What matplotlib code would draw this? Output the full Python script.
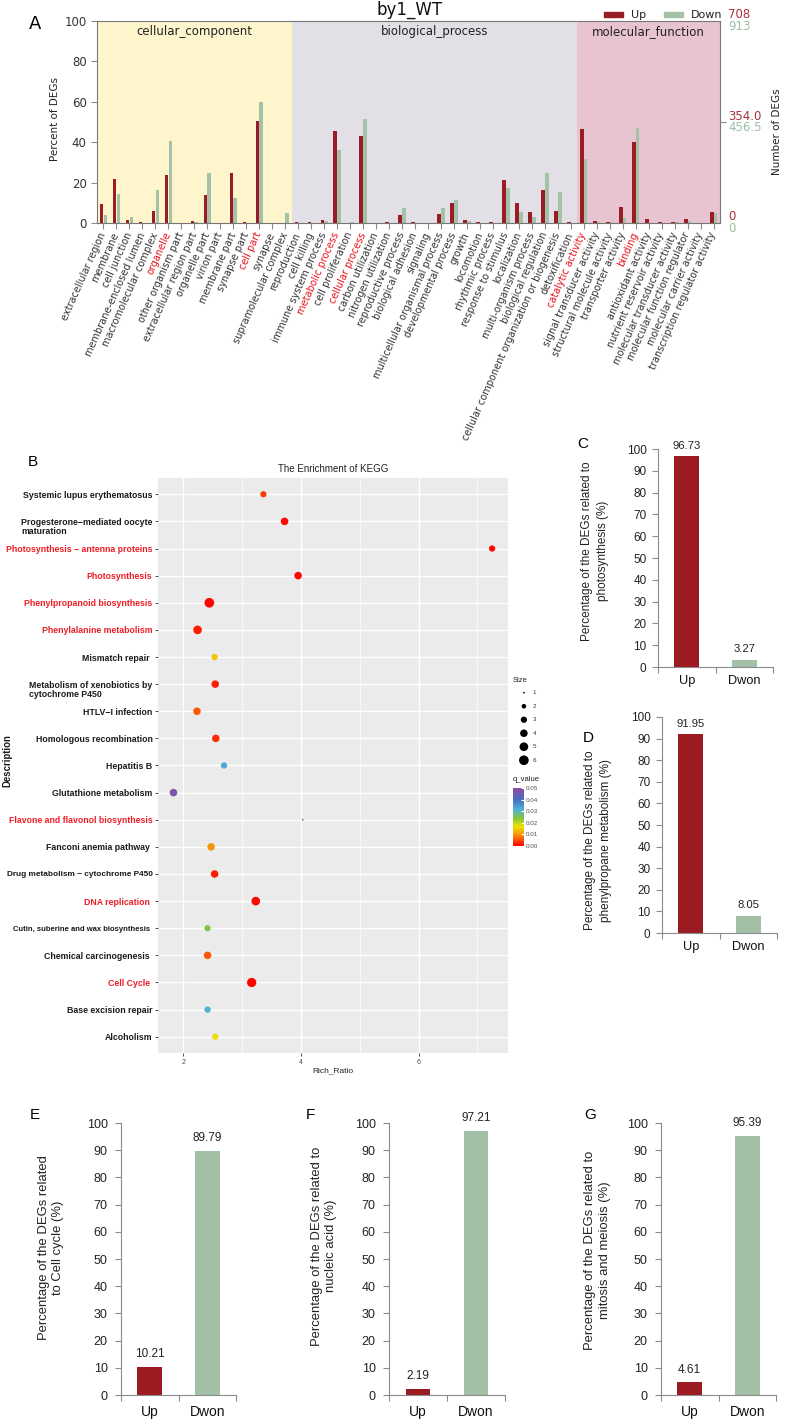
import numpy as np
import matplotlib
matplotlib.use('Agg')
import matplotlib.pyplot as plt
from matplotlib.colors import LinearSegmentedColormap
from matplotlib.patches import Rectangle

# ---------------- data ----------------
# panel A: GO classification, percent of DEGs (Up / Down)
cc_terms = ['extracellular region', 'membrane', 'cell junction', 'membrane-enclosed lumen',
            'macromolecular complex', 'organelle', 'other organism part',
            'extracellular region part', 'organelle part', 'virion part', 'membrane part',
            'synapse part', 'cell part', 'synapse', 'supramolecular complex']
cc_up = [9.2, 21.6, 1.6, 0.3, 5.9, 23.9, 0, 1.0, 13.9, 0, 24.8, 0.3, 50.7, 0, 0]
cc_down = [4.1, 14.4, 3.0, 0.2, 16.5, 40.4, 0, 0.5, 24.8, 0, 12.2, 0, 59.9, 0, 4.8]

bp_terms = ['reproduction', 'cell killing', 'immune system process', 'metabolic process',
            'cell proliferation', 'cellular process', 'carbon utilization',
            'nitrogen utilization', 'reproductive process', 'biological adhesion', 'signaling',
            'multicellular organismal process', 'developmental process', 'growth',
            'locomotion', 'rhythmic process', 'response to stimulus', 'localization',
            'multi-organism process', 'biological regulation',
            'cellular component organization or biogenesis', 'detoxification']
bp_up = [0.3, 0.7, 1.5, 45.5, 0, 43.2, 0, 0.3, 4.2, 0.3, 0.2, 4.6, 9.9, 1.3, 0.3, 0.3,
         21.5, 9.7, 5.4, 16.5, 6.1, 0.5]
bp_down = [0, 0, 1.0, 36.1, 0.3, 51.5, 0, 0, 7.3, 0, 0, 7.4, 11.2, 1.2, 0, 0.2,
           17.2, 5.3, 3.0, 24.6, 15.2, 0]

mf_terms = ['catalytic activity', 'signal transducer activity', 'structural molecule activity',
            'transporter activity', 'binding', 'antioxidant activity',
            'nutrient reservoir activity', 'molecular transducer activity',
            'molecular function regulator', 'molecular carrier activity',
            'transcription regulator activity']
mf_up = [46.4, 1.2, 0.5, 7.8, 39.9, 1.8, 0.3, 0.3, 2.0, 0, 5.4]
mf_down = [31.5, 0.7, 0.3, 2.5, 47.0, 0, 0, 0.7, 1.2, 0, 4.8]

go_highlight = ['organelle', 'cell part', 'metabolic process', 'cellular process',
                'catalytic activity', 'binding']
n_up_total = 708
n_down_total = 913

# panel B: KEGG enrichment
kegg_terms = ['Systemic lupus erythematosus',
              'Progesterone\u2212mediated oocyte\nmaturation',
              'Photosynthesis \u2212 antenna proteins',
              'Photosynthesis',
              'Phenylpropanoid biosynthesis',
              'Phenylalanine metabolism',
              'Mismatch repair ',
              'Metabolism of xenobiotics by\ncytochrome P450',
              'HTLV\u2212I infection',
              'Homologous recombination',
              'Hepatitis B',
              'Glutathione metabolism',
              'Flavone and flavonol biosynthesis',
              'Fanconi anemia pathway ',
              'Drug metabolism \u2212 cytochrome P450',
              'DNA replication ',
              'Cutin, suberine and wax biosynthesis ',
              'Chemical carcinogenesis ',
              'Cell Cycle ',
              'Base excision repair',
              'Alcoholism']
rich_ratio = [3.36, 3.72, 7.25, 3.95, 2.44, 2.24, 2.53, 2.54, 2.23, 2.55, 2.69, 1.83,
              4.03, 2.47, 2.53, 3.23, 2.41, 2.41, 3.16, 2.41, 2.54]
gene_size = [3, 4, 3, 4, 6, 5, 3, 4, 4, 4, 3, 4, 1, 4, 4, 5, 3, 4, 5.6, 3, 3]
q_value = [0.004, 0.0005, 0.0003, 0.0003, 0.0002, 0.002, 0.014, 0.002, 0.006, 0.003,
           0.033, 0.047, 0.049, 0.010, 0.002, 0.0005, 0.024, 0.006, 0.0003, 0.032, 0.017]
kegg_highlight = [2, 3, 4, 5, 12, 15, 18]

# panels C-G: percentage of DEGs
bar_cats = ['Up', 'Dwon']
photo_pct = [96.73, 3.27]
phenyl_pct = [91.95, 8.05]
cellcycle_pct = [10.21, 89.79]
nucleic_pct = [2.19, 97.21]
mitosis_pct = [4.61, 95.39]

# ---------------- style ----------------
RED_A = '#9a1c24'
GREEN_A = '#a4c2a8'
RED = '#9b1b20'
GREEN = '#a3bfa6'
GRAY = '#8c8c8c'
ARIAL = ['Liberation Sans', 'DejaVu Sans']
NARROW = ['Liberation Sans Narrow', 'DejaVu Sans Condensed', 'Liberation Sans', 'DejaVu Sans']

W, H = 785, 1422
fig = plt.figure(figsize=(W / 100, H / 100), dpi=100)


def add_ax(l, t, r, b):
    return fig.add_axes([l / W, 1 - b / H, (r - l) / W, (b - t) / H])


def ftext(x, y, s, **kw):
    return fig.text(x / W, 1 - y / H, s, **kw)


# ================= panel A =================
go_terms = cc_terms + bp_terms + mf_terms
up = np.array(cc_up + bp_up + mf_up)
down = np.array(cc_down + bp_down + mf_down)
n = len(go_terms)
xa = np.arange(n) + 0.5
n_cc, n_bp = len(cc_terms), len(bp_terms)

axA = add_ax(97, 21, 720, 223)
axA.axvspan(0, n_cc, color='#fef5cd', zorder=0, lw=0)
axA.axvspan(n_cc, n_cc + n_bp, color='#e2dfe6', zorder=0, lw=0)
axA.axvspan(n_cc + n_bp, n, color='#e7c4d0', zorder=0, lw=0)
axA.bar(xa - 0.14, up, width=0.28, color=RED_A, zorder=2)
axA.bar(xa + 0.15, down, width=0.28, color=GREEN_A, zorder=2)
axA.set_xlim(0, n)
axA.set_ylim(0, 100)
axA.set_yticks(range(0, 101, 20))
axA.set_xticks(xa)
axA.set_xticklabels(go_terms, rotation=66, ha='right', va='center',
                    rotation_mode='anchor', fontsize=7, color='#333333')
for lbl, t in zip(axA.get_xticklabels(), go_terms):
    if t in go_highlight:
        lbl.set_color('#e8141c')
axA.tick_params(axis='x', length=4, color=GRAY, pad=3)
axA.tick_params(axis='y', length=4, color=GRAY, labelsize=8.5, labelcolor='#333333')
for s in axA.spines.values():
    s.set_color('#777777')
    s.set_linewidth(0.8)

axA.text(n_cc / 2, 95, 'cellular_component', ha='center', va='center', fontsize=8.5, color='#222')
axA.text(n_cc + n_bp / 2, 95, 'biological_process', ha='center', va='center', fontsize=8.5, color='#222')
axA.text(n_cc + n_bp + len(mf_terms) / 2, 95, 'molecular_function', ha='center', va='center',
         fontsize=8.5, color='#222')

axR = axA.twinx()
axR.set_ylim(0, 100)
axR.set_yticks([50])
axR.set_yticklabels([])
axR.tick_params(axis='y', length=4, color=GRAY)
for s in axR.spines.values():
    s.set_visible(False)

RED_T = '#a8323a'
GREEN_T = '#9dbfa3'
ftext(728, 14, str(n_up_total), color=RED_T, fontsize=8.5, va='center')
ftext(728, 26, str(n_down_total), color=GREEN_T, fontsize=8.5, va='center')
ftext(728, 116, f'{n_up_total / 2:.1f}', color=RED_T, fontsize=8.5, va='center')
ftext(728, 127.5, f'{n_down_total / 2:.1f}', color=GREEN_T, fontsize=8.5, va='center')
ftext(728, 216.5, '0', color=RED_T, fontsize=8.5, va='center')
ftext(728, 228, '0', color=GREEN_T, fontsize=8.5, va='center')
ftext(777, 132, 'Number of DEGs', rotation=90, ha='center', va='center', fontsize=7.5, color='#222')
ftext(55, 119, 'Percent of DEGs', rotation=90, ha='center', va='center', fontsize=7.5, color='#222')
ftext(410, 10, 'by1_WT', ha='center', va='center', fontsize=12, color='#111')
ftext(35, 24, 'A', ha='center', va='center', fontsize=13)

fig.patches.append(Rectangle((604 / W, 1 - 17.3 / H), 19 / W, 5.6 / H,
                             transform=fig.transFigure, color=RED_A))
ftext(631, 14.5, 'Up', va='center', fontsize=8, color='#222')
fig.patches.append(Rectangle((664 / W, 1 - 17.3 / H), 19 / W, 5.6 / H,
                             transform=fig.transFigure, color=GREEN_A))
ftext(691, 14.5, 'Down', va='center', fontsize=8, color='#222')

# ================= panel B =================
q_cmap = LinearSegmentedColormap.from_list(
    'q', [(0, '#ff0000'), (0.18, '#f7890a'), (0.33, '#f2e100'), (0.48, '#84c441'),
          (0.64, '#4fb0d6'), (0.8, '#4a6cc0'), (1, '#8f4ba0')])


def dot_area(v):
    d_px = np.sqrt(3 + 18 * (v - 1))
    return (d_px * 0.72) ** 2


axB = add_ax(158, 478, 508, 1053)
yk = np.arange(len(kegg_terms))
axB.set_facecolor('#ebebeb')
sc = axB.scatter(rich_ratio, yk, s=[dot_area(v) for v in gene_size], c=q_value,
                 cmap=q_cmap, vmin=0, vmax=0.05, edgecolors='none', zorder=3)
axB.set_xlim(1.567, 7.52)
axB.set_ylim(len(kegg_terms) - 1 + 0.6, -0.6)
axB.set_xticks([2, 4, 6])
axB.set_xticks([3, 5, 7], minor=True)
axB.set_axisbelow(True)
axB.grid(which='major', color='white', lw=1.0)
axB.xaxis.grid(True, which='minor', color='white', lw=0.5)
for s in axB.spines.values():
    s.set_visible(False)
axB.set_yticks(yk)
# first line on the tick, any second line drawn underneath later
kegg_first = [t.split('\n')[0] for t in kegg_terms]
axB.set_yticklabels(kegg_first, fontsize=6.3, fontweight='bold', family=ARIAL, color='#1a1a1a')
kegg_fs = [6.3] * len(kegg_terms)
kegg_fs[14] = 5.95
kegg_fs[16] = 5.5
kegg_col = ['#ee1c24' if i in kegg_highlight else '#1a1a1a' for i in range(len(kegg_terms))]
for i, lbl in enumerate(axB.get_yticklabels()):
    lbl.set_color(kegg_col[i])
    lbl.set_fontsize(kegg_fs[i])
axB.tick_params(axis='y', length=2.5, width=0.6, color='#333333', pad=1.5)
axB.tick_params(axis='x', which='major', length=2.5, width=0.6, color='#333333', pad=1.5,
                labelsize=5, labelcolor='#4d4d4d')
axB.tick_params(axis='x', which='minor', length=0)
for lbl in axB.get_xticklabels():
    lbl.set_family(ARIAL)

ftext(333, 469, 'The Enrichment of KEGG', ha='center', va='center', fontsize=7,
      family=ARIAL, color='#222')
ftext(333, 1071, 'Rich_Ratio', ha='center', va='center', fontsize=6, family=ARIAL, color='#222')
ftext(7, 761, 'Description', rotation=90, ha='center', va='center', fontsize=6.9,
      fontweight='bold', family=ARIAL, color='#1a1a1a')
ftext(33, 462, 'B', ha='center', va='center', fontsize=11, family=ARIAL)

# size legend
ftext(513, 680, 'Size', ha='left', va='center', fontsize=5.5, family=ARIAL, color='#222')
lax = add_ax(513, 686, 545, 767)
lax.axis('off')
lax.set_xlim(0, 1)
lax.set_ylim(6.5, 0.5)
size_keys = [1, 2, 3, 4, 5, 6]
lax.scatter([0.34] * len(size_keys), size_keys, s=[dot_area(v) for v in size_keys],
            color='black', edgecolors='none')
for k in size_keys:
    lax.text(0.62, k, str(k), ha='left', va='center', fontsize=4.5, family=ARIAL, color='#333')

# q_value colorbar
ftext(513, 779, 'q_value', ha='left', va='center', fontsize=5.5, family=ARIAL, color='#222')
cax = add_ax(513, 788, 524, 846)
cb = fig.colorbar(sc, cax=cax, ticks=[0, 0.01, 0.02, 0.03, 0.04, 0.05])
cb.outline.set_visible(False)
cb.ax.set_yticklabels([f'{t:.2f}' for t in [0, 0.01, 0.02, 0.03, 0.04, 0.05]])
cb.ax.tick_params(length=2.5, color='white', direction='in', labelsize=4.5,
                  labelcolor='#4d4d4d', pad=1.5)
for lbl in cb.ax.get_yticklabels():
    lbl.set_family(ARIAL)


# ================= panels C-G =================
def pct_panel(box, vals, ylab, ylab_xy, tag, tag_xy, fam, tick_fs, cat_fs, val_fs,
              ylab_fs, ylab_ls, xpad, ypad):
    ax = add_ax(*box)
    xs = np.arange(len(bar_cats)) + 0.5
    ax.bar(xs, vals, width=0.43, color=[RED, GREEN], zorder=2)
    for xi, v in zip(xs, vals):
        ax.text(xi, v + 2.5, f'{v:.2f}', ha='center', va='bottom', fontsize=val_fs,
                family=fam, color='#222')
    ax.set_xlim(0, len(bar_cats))
    ax.set_ylim(0, 100)
    ax.set_yticks(range(0, 101, 10))
    ax.set_xticks(xs)
    ax.set_xticklabels(bar_cats)
    ax.set_xticks(np.arange(len(bar_cats) + 1), minor=True)
    ax.tick_params(axis='x', which='major', length=0, pad=xpad, labelsize=cat_fs,
                   labelcolor='#111')
    ax.tick_params(axis='x', which='minor', length=4, color=GRAY, width=0.8)
    ax.tick_params(axis='y', length=4, color=GRAY, width=0.8, pad=ypad, labelsize=tick_fs,
                   labelcolor='#222')
    for lbl in ax.get_xticklabels() + ax.get_yticklabels():
        lbl.set_family(fam)
    for side in ['top', 'right']:
        ax.spines[side].set_visible(False)
    for side in ['left', 'bottom']:
        ax.spines[side].set_color(GRAY)
        ax.spines[side].set_linewidth(0.8)
    ftext(ylab_xy[0], ylab_xy[1], ylab, rotation=90, ha='center', va='center',
          multialignment='center', fontsize=ylab_fs, linespacing=ylab_ls,
          family=ARIAL, color='#222')
    ftext(tag_xy[0], tag_xy[1], tag, ha='center', va='center', fontsize=11, family=ARIAL)
    return ax


pct_panel((658, 449, 773, 667), photo_pct,
          'Percentage of the DEGs related to\nphotosynthesis (%)', (595, 551),
          'C', (583, 444), ARIAL, 8.5, 9.2, 8.1, 8.5, 1.55, 6, 4.3)
pct_panel((662, 717, 777, 933), phenyl_pct,
          'Percentage of the DEGs related to\nphenylpropane metabolism (%)', (598, 840),
          'D', (588, 738), ARIAL, 8.5, 9.2, 8.1, 8.5, 1.55, 6, 4.3)
pct_panel((121, 1123, 236, 1395), cellcycle_pct,
          'Percentage of the DEGs related\nto Cell cycle (%)', (51, 1248),
          'E', (35, 1115), NARROW, 9, 10, 8.5, 9.4, 1.25, 7, 5.5)
pct_panel((389, 1123, 505, 1395), nucleic_pct,
          'Percentage of the DEGs related to\nnucleic acid (%)', (324, 1246),
          'F', (310, 1115), NARROW, 9, 10, 8.5, 9.4, 1.25, 7, 5.5)
pct_panel((661, 1123, 776, 1395), mitosis_pct,
          'Percentage of the DEGs related to\nmitosis and meiosis (%)', (597.5, 1250),
          'G', (590, 1115), NARROW, 9, 10, 8.5, 9.4, 1.25, 7, 5.5)

# second lines of the two-line KEGG labels, left-aligned under the first line
fig.canvas.draw()
for i, t in enumerate(kegg_terms):
    if '\n' in t:
        bb = axB.get_yticklabels()[i].get_window_extent()
        yc = (bb.y0 + bb.y1) / 2 - 9.5
        fig.text(bb.x0 / W, yc / H, t.split('\n')[1], ha='left', va='center',
                 fontsize=kegg_fs[i], fontweight='bold', family=ARIAL, color=kegg_col[i])

fig.savefig('out.png', dpi=100)
